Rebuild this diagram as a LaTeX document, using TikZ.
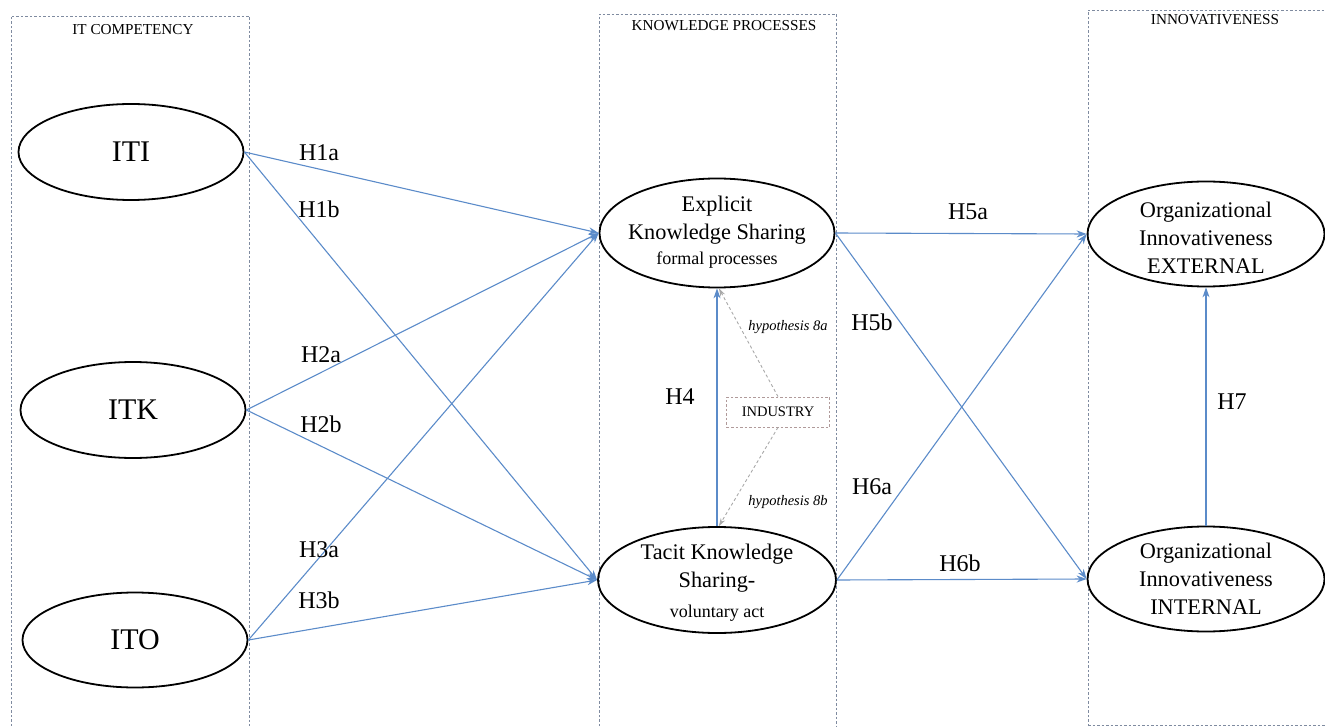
\documentclass[tikz,border=0pt]{standalone}
\usepackage{fontspec}
\setmainfont{Liberation Serif}
\usetikzlibrary{shapes.geometric,arrows.meta}
\definecolor{arrblue}{HTML}{5B8BC9}
\definecolor{boxgray}{HTML}{7F8BA0}
\definecolor{modgray}{HTML}{A8A8A8}
\definecolor{indgray}{HTML}{B09A9A}
\tikzset{
  grp/.style={draw=boxgray, dashed, dash pattern=on 2.5pt off 2pt, line width=0.8pt},
  hdr/.style={font=\fontsize{15.2}{17}\selectfont, inner sep=0pt},
  ell/.style={ellipse, draw=black, line width=1.8pt, inner sep=0pt, align=center},
  big/.style={font=\fontsize{30}{32}\selectfont},
  mid/.style={font=\fontsize{22.3}{28}\selectfont},
  txt/.style={mid, align=center, inner sep=0pt},
  hyp/.style={font=\fontsize{24}{26}\selectfont, inner sep=0pt},
  conn/.style={draw=arrblue, line width=1.1pt, -{Stealth[length=10pt,width=7pt]}},
  mod/.style={draw=modgray, line width=0.9pt, dashed, dash pattern=on 3pt off 2.5pt, -{Stealth[length=8pt,width=5pt]}},
  hyplab/.style={font=\fontsize{14.5}{16}\selectfont\itshape, inner sep=0pt},
}
\newcommand{\smalltxt}[1]{{\fontsize{18}{20}\selectfont #1}}
\begin{document}
\begin{tikzpicture}[x=1pt,y=-1pt]
\useasboundingbox (0,0) rectangle (1325,727);
% group boxes
\draw[grp] (11,726) -- (11,16) -- (249,16) -- (249,726);
\draw[grp] (599,726) -- (599,14) -- (836,14) -- (836,726);
\draw[grp] (1088,726) -- (1088,10) -- (1326,10);
\draw[grp] (1088,725) -- (1326,725);
\node[hdr] (h1) at (133,30) {IT COMPETENCY};
\node[hdr] (h2) at (724,26) {KNOWLEDGE PROCESSES};
\node[hdr] (h3) at (1215,20) {INNOVATIVENESS};
% ellipses
\node[ell, big, minimum width=225pt, minimum height=96pt] (ITI) at (131,152) {ITI};
\node[ell, big, minimum width=225pt, minimum height=96pt] (ITK) at (133,410) {ITK};
\node[ell, big, minimum width=225pt, minimum height=95pt] (ITO) at (135,640) {ITO};
\node[ell, minimum width=235pt, minimum height=109pt] (EX) at (717,233) {};
\node[txt] (EXt) at (717,232) {Explicit\\Knowledge Sharing\\[-3pt]\smalltxt{formal processes}};
\node[ell, minimum width=238pt, minimum height=106pt] (TA) at (717,580) {};
\node[txt] (TAt) at (717,583) {Tacit Knowledge\\Sharing-\\[2pt]\smalltxt{voluntary act}};
\node[ell, minimum width=237pt, minimum height=105pt] (OE) at (1206,234) {};
\node[txt] (OEt) at (1206,238) {Organizational\\Innovativeness\\EXTERNAL};
\node[ell, minimum width=237pt, minimum height=105pt] (OI) at (1206,579) {};
\node[txt] (OIt) at (1206,579) {Organizational\\Innovativeness\\INTERNAL};
% industry
\node[draw=indgray, dashed, dash pattern=on 2.5pt off 2pt, line width=0.8pt, minimum width=103pt, minimum height=30pt, inner sep=0pt, font=\fontsize{14.5}{16}\selectfont] (IND) at (778,412) {INDUSTRY};
% connectors
\draw[conn] (ITI.east) -- (EX.west);
\draw[conn] (ITI.east) -- (TA.west);
\draw[conn] (ITK.east) -- (EX.west);
\draw[conn] (ITK.east) -- (TA.west);
\draw[conn] (ITO.east) -- (EX.west);
\draw[conn] (ITO.east) -- (TA.west);
\draw[conn] (EX.east) -- (OE.west);
\draw[conn] (EX.east) -- (OI.west);
\draw[conn] (TA.east) -- (OE.west);
\draw[conn] (TA.east) -- (OI.west);
\draw[conn] (TA.north) -- (EX.south);
\draw[conn] (OI.north) -- (OE.south);
\draw[mod] (IND.north) -- (EX.-88);
\draw[mod] (IND.south) -- (TA.88);
% labels
\node[hyp] (l1a) at (319,153) {H1a};
\node[hyp] (l1b) at (319,209) {H1b};
\node[hyp] (l2a) at (321,355) {H2a};
\node[hyp] (l2b) at (321,424) {H2b};
\node[hyp] (l3a) at (319,550) {H3a};
\node[hyp] (l3b) at (319,600) {H3b};
\node[hyp] (l4) at (680,397) {H4};
\node[hyp] (l5a) at (968,212) {H5a};
\node[hyp] (l5b) at (872,322) {H5b};
\node[hyp] (l6a) at (872,487) {H6a};
\node[hyp] (l6b) at (960,563) {H6b};
\node[hyp] (l7) at (1232,402) {H7};
\node[hyplab] (h8a) at (788,327) {hypothesis 8a};
\node[hyplab] (h8b) at (788,502) {hypothesis 8b};
\end{tikzpicture}
\end{document}
